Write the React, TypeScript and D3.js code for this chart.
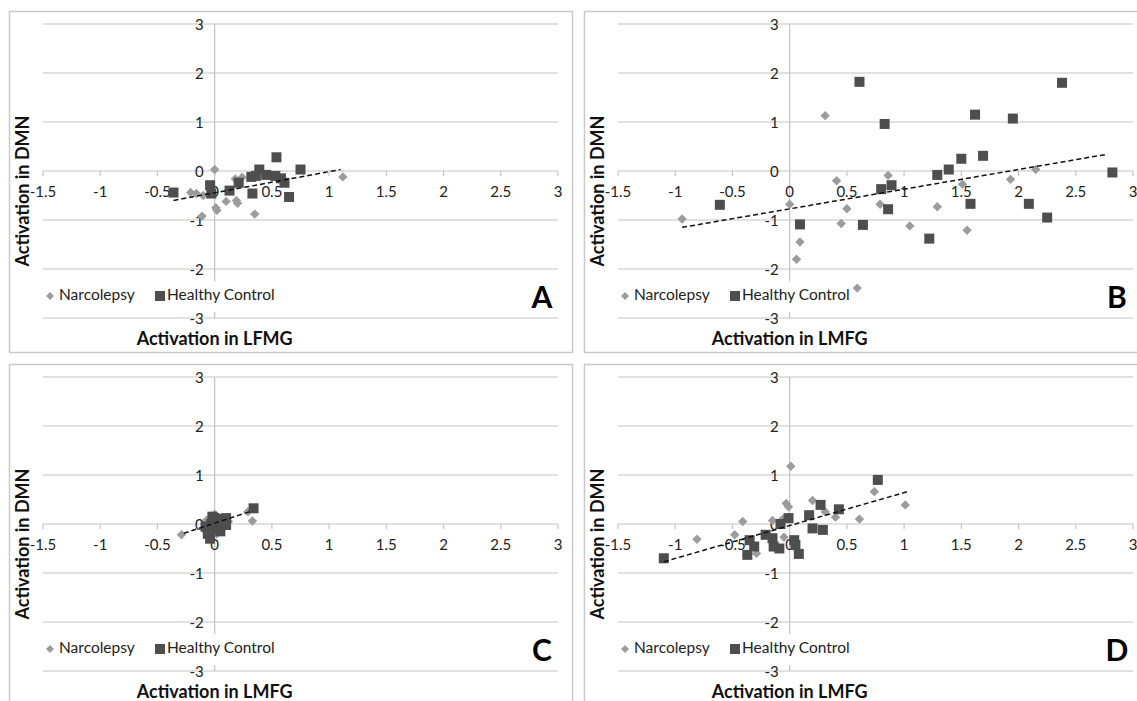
import React from "react";
import * as d3 from "d3";

// ---------- data ----------
const panelLetters = ["A", "B", "C", "D"];
const xTitles = ["Activation in LFMG", "Activation in LMFG", "Activation in LMFG", "Activation in LMFG"];
const yTitle = "Activation in DMN";
const seriesNames = ["Narcolepsy", "Healthy Control"];
const xTicks = [-1.5, -1, -0.5, 0, 0.5, 1, 1.5, 2, 2.5, 3];
const yTicks = [-3, -2, -1, 0, 1, 2, 3];

type P = [number, number];

const narcA: P[] = [
  [-0.21, -0.44], [-0.16, -0.46], [-0.1, -0.5], [-0.11, -0.92], [0.0, 0.03], [0.01, -0.75],
  [0.02, -0.8], [0.1, -0.62], [0.19, -0.6], [0.2, -0.66], [0.18, -0.16], [0.24, -0.13],
  [0.35, -0.88], [1.12, -0.12],
];
const hcA: P[] = [
  [-0.36, -0.44], [-0.04, -0.29], [-0.03, -0.46], [0.13, -0.4], [0.21, -0.24], [0.32, -0.12],
  [0.33, -0.46], [0.39, 0.03], [0.45, -0.08], [0.53, -0.1], [0.54, 0.28], [0.58, -0.15],
  [0.61, -0.24], [0.65, -0.53], [0.75, 0.03], [0.36, -0.1],
];
const trendA: P[] = [[-0.36, -0.6], [1.1, 0.03]];

const narcB: P[] = [
  [-0.94, -0.98], [0.0, -0.68], [0.06, -1.8], [0.09, -1.45], [0.31, 1.13], [0.41, -0.2],
  [0.45, -1.07], [0.5, -0.77], [0.59, -2.39], [0.79, -0.68], [0.86, -0.09], [1.05, -1.12],
  [1.29, -0.73], [1.51, -0.27], [1.55, -1.21], [1.93, -0.17], [2.15, 0.03],
];
const hcB: P[] = [
  [-0.61, -0.69], [0.09, -1.09], [0.61, 1.82], [0.64, -1.1], [0.8, -0.37], [0.83, 0.96],
  [0.86, -0.78], [0.89, -0.29], [1.22, -1.38], [1.29, -0.08], [1.39, 0.03], [1.5, 0.25],
  [1.58, -0.67], [1.62, 1.15], [1.69, 0.31], [1.95, 1.07], [2.09, -0.67], [2.25, -0.95],
  [2.38, 1.8], [2.82, -0.03],
];
const trendB: P[] = [[-0.94, -1.15], [2.77, 0.34]];

const narcC: P[] = [
  [-0.29, -0.22], [-0.1, -0.1], [-0.05, -0.05], [0.0, 0.2], [0.02, -0.2], [0.05, 0.05],
  [0.12, 0.05], [0.29, 0.25], [0.33, 0.06], [-0.07, 0.08], [0.08, -0.05],
];
const hcC: P[] = [
  [-0.08, -0.05], [-0.06, -0.2], [-0.04, -0.3], [-0.03, 0.0], [0.0, 0.12], [-0.01, -0.1],
  [0.02, -0.08], [0.03, 0.04], [0.06, 0.0], [0.08, 0.1], [0.1, 0.12], [0.1, -0.02],
  [0.05, -0.15], [0.34, 0.32], [-0.02, 0.15],
];
const trendC: P[] = [[-0.27, -0.19], [0.33, 0.27]];

const narcD: P[] = [
  [-0.81, -0.31], [-0.48, -0.22], [-0.41, 0.05], [-0.29, -0.6], [-0.15, 0.07], [-0.05, -0.27],
  [-0.03, 0.42], [-0.01, 0.35], [0.01, 1.18], [-0.06, 0.1], [0.2, 0.48], [0.31, 0.25],
  [0.4, 0.14], [0.61, 0.1], [0.74, 0.66], [1.01, 0.39],
];
const hcD: P[] = [
  [-1.1, -0.7], [-0.37, -0.63], [-0.35, -0.33], [-0.31, -0.46], [-0.21, -0.22], [-0.15, -0.29],
  [-0.14, -0.46], [-0.09, -0.5], [-0.08, 0.0], [-0.01, 0.12], [0.04, -0.33], [0.08, -0.61],
  [0.17, 0.18], [0.2, -0.09], [0.27, 0.39], [0.29, -0.12], [0.43, 0.3], [0.77, 0.9],
  [0.05, -0.43],
];
const trendD: P[] = [[-1.1, -0.77], [1.03, 0.66]];

const narcSets = [narcA, narcB, narcC, narcD];
const hcSets = [hcA, hcB, hcC, hcD];
const trendSets = [trendA, trendB, trendC, trendD];

// ---------- layout ----------
const W = 1137;
const H = 701;
const panelOrigins: P[] = [[9, 11], [584, 11], [9, 364], [584, 364]];
const PW = 563;
const PH = 341;
const FONT = "Lato, 'Open Sans', sans-serif";
const NARC_COLOR = "#9c9c9c";
const HC_COLOR = "#4e4e4e";
const GRID = "#c4c4c4";

const xScale = d3.scaleLinear().domain([-1.5, 3]).range([34, 549]);
const yScale = d3.scaleLinear().domain([-3, 3]).range([307, 13]);

const diamond = (r: number) => `M0,${-r}L${r},0L0,${r}L${-r},0Z`;
const line = d3.line<P>().x((d) => xScale(d[0])).y((d) => yScale(d[1]));

function Panel({ i }: { i: number }) {
  const [ox, oy] = panelOrigins[i];
  const x0 = xScale(0);
  const y0 = yScale(0);
  return (
    <g transform={`translate(${ox},${oy})`}>
      <rect x={0.5} y={0.5} width={PW} height={PH} fill="#fff" stroke="#c9c9c9" strokeWidth={1.5} />
      {yTicks.map((t) => (
        <line key={"g" + t} x1={xScale(-1.5)} x2={xScale(3)} y1={yScale(t)} y2={yScale(t)} stroke={GRID} strokeWidth={1.2} />
      ))}
      <line x1={x0} x2={x0} y1={yScale(3)} y2={yScale(-3)} stroke={GRID} strokeWidth={1.2} />
      {xTicks.map((t) => (
        <line key={"t" + t} x1={xScale(t)} x2={xScale(t)} y1={y0} y2={y0 + 5} stroke={GRID} strokeWidth={1.2} />
      ))}
      {xTicks.map((t) => (
        <text key={"xl" + t} x={xScale(t)} y={y0 + 22} textAnchor="middle" dominantBaseline="middle" fontSize={15} fill="#222" fontFamily={FONT}>
          {String(t)}
        </text>
      ))}
      {yTicks.map((t) => (
        <text key={"yl" + t} x={x0 - 11} y={yScale(t) + 2} textAnchor="end" dominantBaseline="middle" fontSize={15} fill="#222" fontFamily={FONT}>
          {String(t)}
        </text>
      ))}
      {/* legend */}
      <rect x={30} y={270} width={248} height={31} fill="#fff" />
      <path d={diamond(4)} transform="translate(41,285)" fill={NARC_COLOR} />
      <text x={50} y={285} dominantBaseline="middle" fontSize={15.5} fill="#222" fontFamily={FONT}>{seriesNames[0]}</text>
      <rect x={146} y={280} width={10} height={10} fill={HC_COLOR} />
      <text x={158} y={285} dominantBaseline="middle" fontSize={15.5} fill="#222" fontFamily={FONT}>{seriesNames[1]}</text>
      {/* marks */}
      {narcSets[i].map((d, k) => (
        <path key={"n" + k} d={diamond(4.7)} transform={`translate(${xScale(d[0])},${yScale(d[1])})`} fill={NARC_COLOR} />
      ))}
      {hcSets[i].map((d, k) => (
        <rect key={"h" + k} x={xScale(d[0]) - 5} y={yScale(d[1]) - 5} width={10} height={10} fill={HC_COLOR} />
      ))}
      <path d={line(trendSets[i]) || ""} fill="none" stroke="#111" strokeWidth={1.5} strokeDasharray="5,3" />
      {/* titles */}
      <text x={x0} y={329} textAnchor="middle" dominantBaseline="middle" fontSize={18} fontWeight="bold" fill="#111" fontFamily={FONT}>
        {xTitles[i]}
      </text>
      <text transform={`translate(15,180) rotate(-90)`} textAnchor="middle" dominantBaseline="middle" fontSize={18} fontWeight="bold" fill="#111" fontFamily={FONT}>
        {yTitle}
      </text>
      <text x={533} y={297} textAnchor="middle" fontSize={30} fontWeight="bold" fill="#000" fontFamily={FONT}>
        {panelLetters[i]}
      </text>
    </g>
  );
}

export default function App() {
  return (
    <svg width={W} height={H} style={{ position: "absolute", left: 0, top: 0, background: "#fff" }}>
      <rect width={W} height={H} fill="#fff" />
      {[0, 1, 2, 3].map((i) => (
        <Panel key={i} i={i} />
      ))}
    </svg>
  );
}
